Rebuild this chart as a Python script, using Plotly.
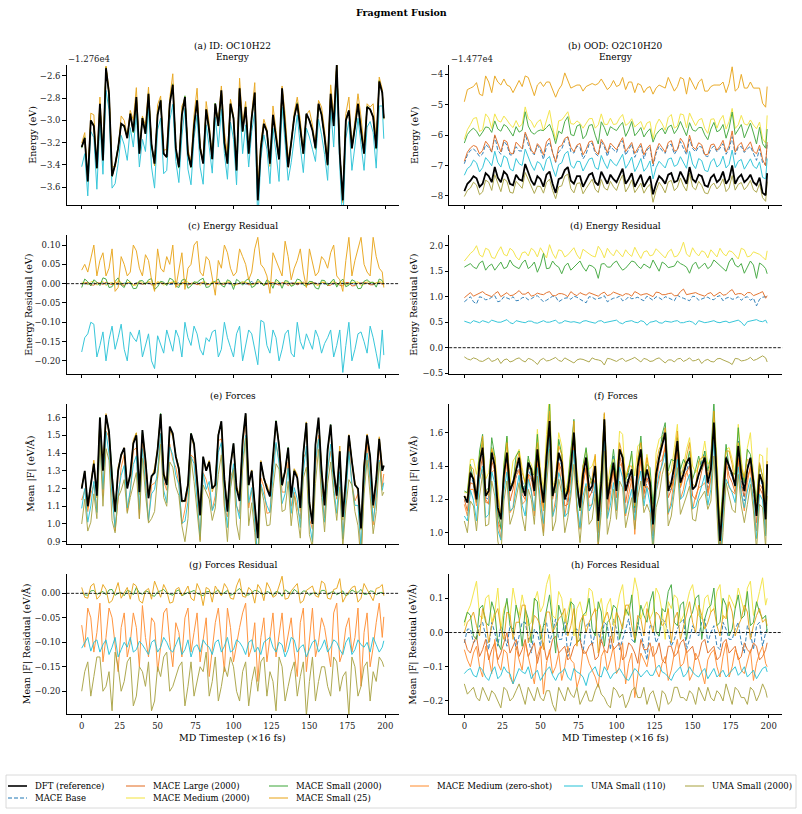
import numpy as np
import plotly.graph_objects as go

W, H = 802, 814

# ---------------- data ----------------
# Each series is stored as two lists: values at t = 0,4,...,196,199 and values at t = 2,6,...,198
T_A = list(range(0, 200, 4)) + [199]
T_B = list(range(2, 200, 4))
X_TICKS = [0, 25, 50, 75, 100, 125, 150, 175, 200]

# ---- ID: OC10H22, energies (eV) relative to offset ----
ID_E_OFFSET = -1.276e4
ID_E_DFT = [-3.24,-3.55,-3.05,-2.85,-2.53,-3.50,-3.25,-3.05,-2.94,-2.79,
            -2.98,-2.76,-3.39,-2.82,-3.33,-2.68,-3.42,-2.79,-3.42,-2.82,
            -3.39,-3.09,-2.85,-2.73,-3.39,-2.98,-2.71,-2.88,-2.97,-3.72,
            -3.03,-3.39,-3.15,-2.71,-3.42,-2.97,-3.09,-2.94,-3.09,-2.85,
            -3.15,-2.76,-2.50,-3.72,-2.91,-3.06,-3.09,-2.88,-2.97,-2.65,-2.98]
ID_E_DFT_MID = [-3.16,-3.00,-3.43,-3.36,-2.76,-3.40,-3.03,-3.16,-3.10,-3.30,
                -3.12,-3.22,-2.95,-3.30,-2.85,-3.25,-2.95,-3.30,-3.05,-3.25,
                -2.90,-3.35,-3.05,-3.20,-2.85,-3.45,-3.10,-3.30,-2.75,-3.25,
                -3.10,-2.95,-3.35,-3.05,-3.20,-2.85,-3.30,-3.00,-3.25,-2.95,
                -3.40,-3.05,-3.30,-3.00,-3.25,-2.85,-3.30,-2.90,-3.25,-2.75]

ID_ERES_BASE = [0.001,-0.002,0.002,0.0,-0.001,0.002,-0.002,0.001,0.0,0.002,
                -0.001,0.001,-0.002,0.002,0.0,-0.001,0.002,0.001,-0.002,0.0,
                0.001,-0.001,0.002,-0.002,0.001,0.0,0.002,-0.001,0.006,0.001,
                -0.002,0.001,0.0,0.002,-0.001,0.001,-0.002,0.002,0.0,0.001,
                -0.001,0.002,-0.002,0.001,0.0,-0.001,0.002,0.001,-0.002,0.001,0.0]
ID_ERES_BASE_MID = [0.0,0.001,-0.001,0.002,0.001,-0.002,0.0,0.002,-0.001,0.001,
                    0.002,-0.001,0.0,0.001,-0.002,0.002,0.0,-0.001,0.001,0.002,
                    -0.002,0.001,0.0,0.002,-0.001,0.001,0.004,0.0,-0.002,0.001,
                    0.002,-0.001,0.001,0.0,0.002,-0.002,0.001,-0.001,0.002,0.0,
                    0.001,-0.002,0.002,0.0,-0.001,0.001,0.002,-0.001,0.0,0.001]
ID_ERES_LARGE = [-0.002,0.003,-0.004,0.001,0.004,-0.003,0.002,-0.005,0.003,0.001,
                 -0.002,0.004,-0.003,0.002,-0.001,0.003,-0.004,0.002,0.001,-0.003,
                 0.004,-0.002,0.003,-0.001,0.002,-0.004,0.001,0.003,-0.002,0.004,
                 -0.003,0.002,-0.001,0.003,-0.005,0.002,0.001,-0.003,0.004,-0.002,
                 0.003,-0.004,0.002,-0.006,0.003,-0.005,0.001,0.002,-0.003,0.004,-0.001]
ID_ERES_LARGE_MID = [0.002,-0.003,0.003,-0.002,0.001,0.004,-0.002,0.002,-0.004,0.003,
                     0.001,-0.003,0.004,-0.001,0.002,-0.002,0.003,-0.004,0.002,0.001,
                     -0.003,0.002,0.004,-0.002,0.003,-0.001,0.002,-0.003,0.001,0.004,
                     -0.002,0.003,-0.004,0.002,0.001,-0.003,0.004,-0.002,0.001,0.003,
                     -0.005,0.002,-0.004,0.003,-0.006,0.002,0.004,-0.003,0.002,-0.002]
ID_ERES_MEDIUM = [0.004,-0.003,0.006,0.002,-0.005,0.003,0.008,-0.002,0.005,-0.004,
                  0.002,0.006,-0.006,0.003,0.001,0.005,-0.003,0.007,-0.002,0.004,
                  0.006,-0.004,0.002,0.001,0.005,-0.006,0.003,0.004,-0.003,0.006,
                  -0.002,0.002,0.005,-0.005,0.003,0.001,0.004,-0.003,0.002,-0.006,
                  0.004,0.002,-0.004,0.006,-0.001,0.003,-0.005,0.005,0.002,0.006,0.001]
ID_ERES_MEDIUM_MID = [0.002,0.005,-0.004,0.006,0.001,-0.003,0.004,0.002,-0.005,0.007,
                      -0.002,0.003,0.005,-0.004,0.002,0.006,-0.002,0.004,0.001,-0.005,
                      0.003,0.006,-0.003,0.002,0.004,-0.002,0.005,0.001,-0.004,0.003,
                      0.006,-0.003,0.002,0.004,-0.005,0.003,0.001,0.005,-0.002,0.004,
                      -0.003,0.006,0.001,-0.004,0.003,0.005,-0.002,0.004,0.001,0.003]
ID_ERES_SMALL = [-0.01,0.005,0.01,-0.005,0.012,-0.008,0.015,-0.01,0.004,-0.012,
                 0.008,0.01,-0.015,0.006,-0.005,0.01,-0.01,0.012,-0.006,0.003,
                 0.014,-0.008,0.006,-0.004,0.01,-0.015,0.005,0.008,-0.01,0.012,
                 -0.006,0.004,0.011,-0.012,0.006,-0.003,0.009,-0.007,0.005,-0.014,
                 0.008,0.003,-0.009,0.012,-0.004,0.006,-0.012,0.01,0.004,0.012,-0.002]
ID_ERES_SMALL_MID = [0.012,-0.006,0.004,0.015,-0.01,0.006,-0.004,0.011,-0.013,0.007,
                     -0.002,0.013,-0.008,0.004,0.014,-0.006,0.009,-0.012,0.005,0.01,
                     -0.01,0.003,0.012,-0.009,0.006,0.011,-0.004,0.013,-0.006,0.002,
                     0.01,-0.012,0.005,0.008,-0.007,0.012,-0.003,0.006,-0.011,0.009,
                     -0.005,0.012,0.004,-0.008,0.01,-0.013,0.006,0.003,-0.009,0.008]
ID_ERES_SMALL25 = [0.035,0.03,0.10,0.06,0.02,0.09,-0.01,0.05,0.03,0.085,
                   0.02,0.06,-0.02,0.04,0.07,0.10,0.03,-0.015,0.05,0.11,
                   0.02,0.06,-0.03,0.04,0.08,0.02,0.09,0.05,0.03,0.12,
                   0.04,-0.025,0.06,0.02,0.07,0.04,0.09,-0.01,0.05,0.03,
                   0.06,0.08,0.02,-0.02,0.12,0.06,0.12,0.03,0.12,0.04,-0.01]
ID_ERES_SMALL25_MID = [0.05,0.065,0.02,0.08,0.04,-0.02,0.07,0.02,0.10,0.04,
                       0.075,0.01,0.09,0.03,0.05,-0.01,0.08,0.04,0.10,0.03,
                       0.07,0.01,0.06,0.10,0.04,0.03,0.07,0.01,0.09,0.05,
                       0.02,0.08,0.04,0.11,0.01,0.06,0.03,0.09,0.02,0.07,
                       0.04,0.10,0.01,0.06,0.02,0.09,0.05,0.02,0.07,0.03]
ID_ERES_UMA110 = [-0.177,-0.13,-0.105,-0.16,-0.20,-0.11,-0.14,-0.17,-0.125,-0.15,
                  -0.19,-0.13,-0.22,-0.16,-0.12,-0.175,-0.14,-0.10,-0.16,-0.13,
                  -0.185,-0.15,-0.12,-0.17,-0.14,-0.19,-0.11,-0.16,-0.13,-0.21,
                  -0.10,-0.18,-0.14,-0.17,-0.12,-0.19,-0.15,-0.13,-0.17,-0.14,
                  -0.155,-0.12,-0.16,-0.23,-0.10,-0.17,-0.125,-0.18,-0.14,-0.22,-0.185]
ID_ERES_UMA110_MID = [-0.14,-0.10,-0.19,-0.125,-0.145,-0.17,-0.105,-0.20,-0.14,-0.12,
                      -0.16,-0.20,-0.135,-0.18,-0.15,-0.12,-0.19,-0.14,-0.11,-0.17,
                      -0.14,-0.125,-0.19,-0.10,-0.165,-0.13,-0.20,-0.12,-0.175,-0.095,
                      -0.16,-0.12,-0.20,-0.13,-0.18,-0.10,-0.17,-0.15,-0.12,-0.18,
                      -0.14,-0.19,-0.12,-0.16,-0.20,-0.13,-0.15,-0.11,-0.18,-0.12]

# ---- ID forces (eV/Å) ----
ID_F_DFT = [1.20,1.10,1.34,1.60,1.615,1.26,1.30,1.43,1.28,1.50,
            1.53,1.145,1.29,1.62,1.22,1.51,1.31,1.13,1.51,1.24,
            1.38,1.35,1.22,1.58,1.07,1.455,1.13,1.625,1.30,0.92,
            1.26,1.155,1.58,1.22,1.43,1.30,1.09,1.57,1.00,1.60,
            1.105,1.56,1.16,1.04,1.50,1.22,0.975,1.50,1.105,1.48,1.33]
ID_F_DFT_MID = [1.30,1.22,1.16,1.30,1.52,1.07,1.39,1.20,1.455,1.18,
                1.36,1.27,1.42,1.28,1.55,1.38,1.13,1.22,1.45,1.05,
                1.30,1.20,1.50,1.25,1.33,1.20,1.47,1.22,1.10,1.35,
                1.20,1.38,1.44,1.30,1.15,1.26,1.40,1.12,1.45,1.30,
                1.42,1.30,1.41,1.25,1.35,1.20,1.32,1.38,1.25,1.30]
ID_FRES_SMALL = [0.002,-0.004,0.006,0.001,-0.003,0.008,0.0,-0.005,0.004,0.012,
                 -0.002,0.003,-0.006,0.005,0.001,-0.004,0.007,-0.002,0.003,0.0,
                 -0.005,0.004,0.002,-0.003,0.006,-0.001,0.01,-0.004,0.002,0.005,
                 -0.003,0.001,0.004,-0.006,0.003,0.008,-0.002,0.004,0.0,-0.004,
                 0.006,0.002,-0.003,0.005,-0.001,0.003,0.008,-0.002,0.004,0.001,-0.003]
ID_FRES_SMALL_MID = [-0.003,0.005,-0.002,0.004,0.007,-0.004,0.002,0.006,-0.003,0.001,
                     0.005,-0.004,0.003,0.008,-0.002,0.004,-0.005,0.002,0.006,-0.003,
                     0.003,-0.002,0.007,0.001,-0.004,0.005,0.002,-0.003,0.006,0.0,
                     0.004,-0.005,0.002,0.007,-0.002,0.003,0.005,-0.004,0.002,0.006,
                     -0.003,0.004,0.001,-0.005,0.007,0.002,-0.002,0.005,-0.003,0.002]
ID_FRES_SMALL25 = [0.012,-0.01,0.02,-0.005,0.008,-0.015,0.022,0.0,-0.012,0.015,
                   -0.02,0.01,0.025,-0.008,0.005,-0.018,0.012,0.003,-0.01,0.02,
                   -0.025,0.008,0.015,-0.005,0.01,-0.012,0.03,-0.008,0.005,0.018,
                   -0.015,0.01,-0.004,0.035,-0.01,0.012,-0.02,0.006,0.015,-0.008,
                   0.02,-0.012,0.01,-0.018,0.004,0.015,-0.01,0.008,-0.015,0.012,-0.005]
ID_FRES_SMALL25_MID = [-0.008,0.015,-0.012,0.018,-0.02,0.005,-0.01,0.012,0.02,-0.015,
                       0.005,-0.012,0.01,0.018,-0.02,0.008,-0.005,0.015,-0.015,0.006,
                       0.012,-0.018,0.004,0.02,-0.01,0.015,-0.006,0.012,-0.02,0.008,
                       0.022,-0.008,0.015,-0.012,0.005,0.02,-0.015,0.01,-0.005,0.025,
                       -0.01,0.008,0.03,-0.006,0.012,-0.018,0.02,-0.005,0.01,0.018]
ID_FRES_ZERO = [-0.065,-0.03,-0.12,-0.02,-0.09,-0.05,-0.16,-0.04,-0.10,-0.07,
                -0.025,-0.13,-0.06,-0.11,-0.03,-0.15,-0.08,-0.05,-0.12,-0.04,
                -0.09,-0.17,-0.06,-0.10,-0.03,-0.14,-0.07,-0.02,-0.11,-0.18,
                -0.05,-0.09,-0.13,-0.04,-0.08,-0.12,-0.06,-0.16,-0.03,-0.10,
                -0.07,-0.15,-0.02,-0.12,-0.05,-0.09,-0.19,-0.04,-0.11,-0.02,-0.048]
ID_FRES_ZERO_MID = [-0.11,-0.05,-0.08,-0.14,-0.03,-0.11,-0.07,-0.13,-0.04,-0.15,
                    -0.09,-0.05,-0.16,-0.04,-0.10,-0.06,-0.13,-0.03,-0.08,-0.14,
                    -0.05,-0.12,-0.03,-0.16,-0.07,-0.10,-0.04,-0.13,-0.06,-0.09,
                    -0.14,-0.04,-0.08,-0.12,-0.05,-0.17,-0.03,-0.09,-0.13,-0.05,
                    -0.11,-0.04,-0.14,-0.07,-0.12,-0.03,-0.08,-0.15,-0.06,-0.09]
ID_FRES_UMA110 = [-0.112,-0.09,-0.10,-0.12,-0.095,-0.11,-0.13,-0.10,-0.09,-0.115,
                  -0.105,-0.125,-0.095,-0.11,-0.10,-0.12,-0.09,-0.115,-0.13,-0.105,
                  -0.095,-0.11,-0.10,-0.12,-0.09,-0.115,-0.10,-0.125,-0.095,-0.11,
                  -0.10,-0.09,-0.12,-0.105,-0.115,-0.095,-0.11,-0.13,-0.10,-0.12,
                  -0.095,-0.11,-0.10,-0.125,-0.09,-0.115,-0.105,-0.10,-0.09,-0.12,-0.097]
ID_FRES_UMA110_MID = [-0.10,-0.118,-0.095,-0.105,-0.125,-0.09,-0.115,-0.11,-0.12,-0.098,
                      -0.115,-0.10,-0.12,-0.09,-0.115,-0.105,-0.125,-0.095,-0.11,-0.12,
                      -0.105,-0.125,-0.095,-0.108,-0.12,-0.095,-0.11,-0.10,-0.12,-0.125,
                      -0.095,-0.11,-0.10,-0.13,-0.09,-0.12,-0.105,-0.115,-0.095,-0.11,
                      -0.12,-0.095,-0.115,-0.10,-0.125,-0.095,-0.11,-0.12,-0.105,-0.11]
ID_FRES_UMA2000 = [-0.20,-0.14,-0.17,-0.13,-0.19,-0.24,-0.15,-0.18,-0.13,-0.21,
                   -0.16,-0.14,-0.22,-0.17,-0.12,-0.19,-0.15,-0.23,-0.14,-0.18,
                   -0.16,-0.21,-0.13,-0.19,-0.17,-0.15,-0.22,-0.14,-0.18,-0.20,
                   -0.13,-0.16,-0.24,-0.15,-0.19,-0.14,-0.17,-0.25,-0.13,-0.18,
                   -0.15,-0.21,-0.14,-0.17,-0.25,-0.15,-0.19,-0.14,-0.16,-0.13,-0.15]
ID_FRES_UMA2000_MID = [-0.16,-0.21,-0.13,-0.20,-0.16,-0.12,-0.20,-0.14,-0.23,-0.15,
                       -0.19,-0.24,-0.15,-0.13,-0.20,-0.17,-0.14,-0.19,-0.21,-0.15,
                       -0.12,-0.18,-0.22,-0.15,-0.13,-0.20,-0.16,-0.23,-0.15,-0.14,
                       -0.21,-0.18,-0.13,-0.22,-0.16,-0.21,-0.14,-0.18,-0.22,-0.15,
                       -0.19,-0.13,-0.20,-0.16,-0.13,-0.21,-0.15,-0.22,-0.18,-0.14]

# ---- OOD: O2C10H20, energies (eV) relative to offset ----
OOD_E_OFFSET = -1.477e4
OOD_E_DFT = [-7.84,-7.5,-7.42,-7.6,-7.35,-7.05,-7.55,-7.3,-7.65,-7.45,
             -6.95,-7.5,-7.35,-7.7,-7.2,-7.9,-7.4,-7.05,-7.6,-7.35,
             -7.5,-7.25,-7.65,-7.4,-7.3,-7.55,-7.1,-7.45,-7.7,-7.3,
             -7.5,-7.95,-7.35,-7.6,-7.25,-7.5,-7.4,-7.05,-7.55,-7.35,
             -7.7,-7.3,-7.45,-7.6,-7.0,-7.4,-7.55,-7.3,-7.65,-7.9,-7.25]
OOD_E_DFT_MID = [-7.6,-7.35,-7.7,-7.25,-7.55,-7.4,-7.2,-7.6,-7.3,-7.5,
                 -7.25,-7.65,-7.45,-7.3,-7.6,-7.45,-7.15,-7.5,-7.35,-7.7,
                 -7.3,-7.55,-7.2,-7.6,-7.45,-7.3,-7.6,-7.25,-7.5,-7.7,
                 -7.35,-7.6,-7.45,-7.3,-7.55,-7.2,-7.6,-7.45,-7.3,-7.65,
                 -7.4,-7.55,-7.2,-7.45,-7.6,-7.3,-7.45,-7.55,-7.4,-7.98]
OOD_ERES_BASE = [0.90,1.0,0.86,0.98,0.95,1.02,0.92,0.97,1.0,0.93,
                 0.99,0.96,1.02,0.9,0.97,1.0,0.94,0.98,1.01,0.95,
                 0.88,0.99,0.96,1.02,0.94,0.98,0.92,1.0,0.97,0.95,
                 1.01,0.93,0.98,1.0,0.95,1.03,0.97,0.92,1.0,0.96,
                 0.99,0.94,1.02,0.97,0.95,1.0,0.98,0.93,0.82,0.99,0.98]
OOD_ERES_BASE_MID = [0.95,0.9,1.0,0.94,0.99,0.9,1.0,0.95,0.92,0.98,
                     0.94,1.0,0.96,0.93,1.01,0.9,0.97,0.95,0.99,0.92,
                     1.0,0.95,0.98,0.9,0.97,1.01,0.94,0.96,0.99,0.92,
                     0.97,1.0,0.94,0.98,0.92,0.99,0.95,1.01,0.93,0.98,
                     0.95,1.0,0.92,0.99,0.96,0.93,1.0,0.97,0.95,1.0]
OOD_ERES_LARGE = [0.98,1.08,1.04,1.1,1.02,1.06,1.0,1.08,1.03,1.12,
                  1.05,1.01,1.07,1.04,1.1,1.02,1.06,1.0,1.05,1.08,
                  1.03,1.06,1.01,1.09,1.04,1.07,1.02,1.05,1.1,1.03,
                  1.06,1.0,1.08,1.04,1.07,1.02,1.15,1.05,1.08,1.03,
                  1.06,1.01,1.09,1.04,1.14,1.06,1.02,1.08,1.04,1.1,1.02]
OOD_ERES_LARGE_MID = [1.04,1.01,1.08,1.05,1.0,1.1,1.04,1.02,1.07,1.05,
                      1.09,1.03,1.05,1.08,1.02,1.06,1.04,1.1,1.02,1.05,
                      1.08,1.03,1.06,1.02,1.09,1.04,1.06,1.01,1.07,1.05,
                      1.03,1.09,1.04,1.06,1.02,1.1,1.04,1.07,1.05,1.01,
                      1.08,1.05,1.03,1.1,1.04,1.06,1.08,1.02,1.07,0.97]
OOD_ERES_MEDIUM = [1.70,1.85,2.0,1.78,1.92,1.75,1.98,1.8,1.9,1.72,
                   1.88,1.95,1.78,1.85,2.02,1.75,1.9,1.82,1.96,1.74,
                   1.88,1.8,1.99,1.76,1.86,1.92,1.78,1.84,1.97,1.75,
                   1.9,1.82,1.88,1.76,1.93,1.8,2.07,1.78,1.86,1.9,
                   1.76,1.84,1.95,1.8,1.88,1.74,1.92,1.8,1.86,1.78,1.9]
OOD_ERES_MEDIUM_MID = [1.78,1.9,1.82,1.95,1.77,1.88,1.83,1.95,1.78,1.86,
                       1.8,1.9,1.96,1.76,1.85,1.92,1.78,1.88,1.82,1.93,
                       1.84,1.78,1.9,1.95,1.8,1.86,1.92,1.79,1.85,1.88,
                       1.8,1.94,1.82,1.88,1.78,1.9,1.84,1.96,1.8,1.87,
                       1.92,1.78,1.85,1.9,1.82,1.95,1.78,1.88,1.83,1.72]
OOD_ERES_SMALL = [1.58,1.65,1.55,1.7,1.6,1.52,1.68,1.58,1.62,1.55,
                  1.72,1.6,1.48,1.85,1.56,1.62,1.45,1.66,1.58,1.7,
                  1.5,1.6,1.36,1.65,1.58,1.7,1.52,1.62,1.68,1.55,
                  1.6,1.72,1.5,1.64,1.58,1.7,1.62,1.46,1.68,1.6,
                  1.55,1.72,1.62,1.5,1.76,1.58,1.46,1.7,1.36,1.62,1.45]
OOD_ERES_SMALL_MID = [1.62,1.58,1.66,1.52,1.64,1.6,1.55,1.72,1.58,1.66,
                      1.55,1.68,1.62,1.55,1.7,1.58,1.6,1.52,1.65,1.58,
                      1.62,1.55,1.64,1.58,1.66,1.6,1.56,1.7,1.6,1.64,
                      1.56,1.62,1.68,1.57,1.6,1.65,1.58,1.62,1.55,1.66,
                      1.6,1.66,1.55,1.68,1.62,1.65,1.58,1.62,1.66,1.55]
OOD_ERES_SMALL25 = [2.94,3.05,3.15,2.9,3.1,3.0,3.2,2.95,3.05,3.25,
                    2.9,3.1,3.0,3.3,2.95,3.15,3.05,2.85,3.2,3.0,
                    3.1,2.95,3.35,3.05,2.9,3.15,3.0,3.2,3.1,2.95,
                    3.05,3.3,3.0,3.15,2.9,3.1,3.25,2.95,3.05,3.2,
                    3.15,2.95,3.1,3.0,3.25,2.95,3.1,3.05,3.2,2.95,2.85]
OOD_ERES_SMALL25_MID = [3.1,2.95,3.05,3.2,2.95,3.15,3.05,3.2,2.9,3.1,
                        3.15,2.95,3.2,3.05,3.1,2.95,3.2,3.05,3.0,3.15,
                        2.95,3.2,3.05,3.1,3.25,2.95,3.1,3.0,3.2,3.1,
                        2.95,3.15,3.05,3.2,3.0,3.1,2.95,3.15,3.05,3.1,
                        3.0,3.2,2.95,3.15,3.05,3.3,3.0,3.1,2.95,2.9]
OOD_ERES_UMA110 = [0.52,0.48,0.51,0.53,0.49,0.52,0.5,0.55,0.47,0.51,
                   0.49,0.52,0.48,0.53,0.5,0.54,0.49,0.52,0.51,0.48,
                   0.53,0.5,0.52,0.49,0.51,0.54,0.47,0.52,0.5,0.53,
                   0.44,0.51,0.49,0.52,0.5,0.53,0.49,0.52,0.45,0.51,
                   0.5,0.53,0.49,0.52,0.51,0.54,0.43,0.52,0.55,0.51,0.48]
OOD_ERES_UMA110_MID = [0.5,0.53,0.49,0.51,0.54,0.5,0.52,0.49,0.53,0.5,
                       0.52,0.49,0.51,0.5,0.52,0.48,0.53,0.5,0.49,0.52,
                       0.51,0.48,0.53,0.5,0.52,0.49,0.51,0.53,0.49,0.51,
                       0.5,0.53,0.48,0.51,0.52,0.49,0.51,0.5,0.53,0.49,
                       0.52,0.5,0.51,0.49,0.53,0.5,0.51,0.53,0.52,0.54]
OOD_ERES_UMA2000 = [-0.18,-0.24,-0.22,-0.27,-0.2,-0.25,-0.31,-0.22,-0.26,-0.2,
                    -0.28,-0.23,-0.33,-0.21,-0.25,-0.19,-0.27,-0.23,-0.3,-0.22,
                    -0.26,-0.2,-0.24,-0.34,-0.22,-0.27,-0.21,-0.25,-0.19,-0.28,
                    -0.23,-0.26,-0.2,-0.3,-0.24,-0.22,-0.27,-0.2,-0.25,-0.31,
                    -0.23,-0.28,-0.21,-0.26,-0.33,-0.22,-0.25,-0.19,-0.23,-0.16,-0.28]
OOD_ERES_UMA2000_MID = [-0.22,-0.2,-0.26,-0.23,-0.27,-0.21,-0.24,-0.28,-0.22,-0.25,
                        -0.21,-0.27,-0.24,-0.26,-0.22,-0.25,-0.2,-0.26,-0.24,-0.23,
                        -0.28,-0.23,-0.26,-0.21,-0.25,-0.23,-0.27,-0.22,-0.24,-0.21,
                        -0.27,-0.22,-0.25,-0.24,-0.28,-0.21,-0.24,-0.26,-0.22,-0.25,
                        -0.27,-0.22,-0.24,-0.29,-0.21,-0.26,-0.23,-0.25,-0.2,-0.2]

# ---- OOD forces (eV/Å) ----
OOD_F_DFT = [1.22,1.36,1.20,1.51,1.25,1.40,1.08,1.48,1.30,1.45,
             1.22,1.38,1.50,1.18,1.67,1.30,1.42,1.25,1.60,1.15,
             1.45,1.28,1.07,1.68,1.30,1.25,1.45,1.32,1.18,1.50,
             1.38,1.05,1.45,1.60,1.30,1.55,1.35,1.45,1.28,1.40,
             1.30,1.66,0.95,1.45,1.35,1.52,1.25,1.45,1.10,1.30,1.41]
OOD_F_DFT_MID = [1.18,1.32,1.42,1.22,1.48,1.15,1.35,1.25,1.38,1.28,
                 1.42,1.25,1.32,1.45,1.22,1.48,1.20,1.40,1.30,1.35,
                 1.25,1.40,1.30,1.20,1.42,1.50,1.25,1.38,1.40,1.28,
                 1.30,1.35,1.52,1.25,1.40,1.30,1.42,1.26,1.35,1.45,
                 1.38,1.32,1.20,1.40,1.28,1.35,1.38,1.30,1.35,1.08]
OOD_FRES_BASE = [-0.03,0.01,-0.02,0.03,-0.05,0.0,0.02,-0.04,0.01,-0.01,
                 0.03,-0.06,0.0,0.02,-0.03,0.04,-0.02,-0.07,0.01,-0.01,
                 0.02,-0.04,0.0,0.03,-0.05,0.01,-0.02,0.04,-0.03,0.0,
                 -0.08,0.02,-0.01,0.03,-0.04,0.01,0.04,-0.02,0.0,0.03,
                 -0.03,0.02,-0.05,0.01,-0.02,0.03,-0.06,0.0,0.02,-0.04,0.01]
OOD_FRES_BASE_MID = [0.01,-0.03,0.02,-0.01,0.03,-0.04,0.0,0.02,-0.05,0.03,
                     -0.02,0.01,-0.04,0.03,0.0,-0.02,0.04,-0.03,0.01,-0.06,
                     0.03,0.0,-0.03,0.02,0.04,-0.05,0.01,-0.02,0.03,-0.04,
                     0.02,-0.03,0.04,0.0,-0.02,0.03,-0.05,0.02,-0.01,0.04,
                     0.0,-0.04,0.03,-0.02,0.01,-0.03,0.02,-0.05,0.03,0.0]
OOD_FRES_LARGE = [-0.02,-0.06,-0.01,-0.05,-0.08,-0.03,-0.06,0.0,-0.04,-0.07,
                  -0.02,-0.05,-0.09,-0.03,-0.06,-0.01,-0.05,-0.08,-0.04,-0.02,
                  -0.06,-0.03,-0.07,-0.05,-0.01,-0.04,-0.08,-0.03,-0.06,-0.02,
                  -0.05,-0.07,-0.03,-0.09,-0.04,-0.06,-0.02,-0.05,-0.08,-0.03,
                  -0.06,-0.04,-0.07,-0.02,-0.05,-0.08,-0.03,-0.06,-0.04,-0.07,-0.03]
OOD_FRES_LARGE_MID = [-0.05,-0.03,-0.07,-0.02,-0.05,-0.08,-0.03,-0.06,-0.02,-0.05,
                      -0.07,-0.03,-0.05,-0.08,-0.02,-0.06,-0.04,-0.07,-0.03,-0.06,
                      -0.04,-0.08,-0.02,-0.06,-0.05,-0.03,-0.07,-0.04,-0.09,-0.05,
                      -0.03,-0.06,-0.08,-0.04,-0.07,-0.03,-0.06,-0.04,-0.07,-0.02,
                      -0.05,-0.08,-0.03,-0.06,-0.04,-0.07,-0.05,-0.03,-0.08,-0.05]
OOD_FRES_MEDIUM = [0.02,0.08,0.15,0.04,0.11,0.06,0.01,0.09,0.13,0.05,
                   0.07,0.03,0.12,0.08,0.17,0.04,0.1,0.06,-0.01,0.09,
                   0.05,0.12,0.07,0.03,0.1,0.06,0.14,0.08,0.16,0.04,
                   0.09,0.06,0.11,-0.02,0.07,0.1,0.05,0.12,0.08,0.04,
                   0.11,0.07,0.14,0.05,0.09,0.13,0.06,0.15,0.08,0.16,0.1]
OOD_FRES_MEDIUM_MID = [0.06,0.12,0.05,0.1,0.03,0.13,0.07,0.04,0.08,0.11,
                       0.02,0.09,0.06,0.14,0.05,0.12,0.03,0.1,0.07,0.05,
                       0.13,0.06,0.1,0.08,0.02,0.11,0.05,0.09,0.12,0.07,
                       0.04,0.13,0.06,0.09,0.11,0.03,0.08,0.14,0.05,0.1,
                       0.06,0.12,0.04,0.11,0.07,0.09,0.13,0.05,0.12,0.08]
OOD_FRES_SMALL = [0.03,0.05,-0.02,0.08,0.02,0.06,-0.05,0.1,0.0,0.04,
                  0.07,-0.03,0.09,0.02,0.11,-0.06,0.05,0.03,0.08,-0.02,
                  0.06,0.01,0.09,-0.04,0.04,0.07,0.02,0.05,-0.03,0.08,
                  0.03,0.12,-0.01,0.06,0.14,0.02,0.09,0.04,0.1,-0.02,
                  0.07,0.13,0.03,0.08,0.01,0.11,0.05,0.02,0.09,0.04,0.0]
OOD_FRES_SMALL_MID = [0.06,-0.01,0.07,0.03,0.09,-0.03,0.05,0.02,0.08,-0.04,
                      0.04,0.1,-0.02,0.06,0.03,0.08,0.0,0.09,-0.03,0.05,
                      0.1,-0.01,0.06,0.03,0.08,-0.02,0.07,0.11,0.02,0.05,
                      0.09,0.0,0.07,0.12,0.03,0.08,-0.02,0.06,0.11,0.04,
                      0.08,0.02,0.1,-0.01,0.07,0.04,0.12,0.03,0.06,0.05]
OOD_FRES_SMALL25 = [0.0,0.04,0.02,0.07,-0.03,0.05,0.01,0.06,-0.02,0.03,
                    0.08,0.0,0.04,-0.05,0.06,0.02,0.05,-0.01,0.07,0.03,
                    0.0,0.05,-0.06,0.04,0.02,0.06,0.01,0.08,-0.02,0.04,
                    0.07,0.0,0.05,0.03,-0.03,0.06,0.02,0.09,0.0,0.05,
                    0.03,0.07,-0.01,0.04,0.06,0.02,0.08,-0.02,0.05,0.03,0.02]
OOD_FRES_SMALL25_MID = [0.03,0.06,-0.01,0.04,0.02,0.07,-0.02,0.05,0.03,0.08,
                        -0.03,0.05,0.02,0.06,0.0,0.04,0.07,0.02,-0.04,0.05,
                        0.03,0.07,0.01,0.06,-0.03,0.04,0.08,0.02,0.05,-0.01,
                        0.03,0.06,0.02,0.07,0.04,-0.02,0.05,0.03,0.08,0.01,
                        0.06,0.02,0.05,0.09,-0.01,0.04,0.06,0.02,0.07,0.04]
OOD_FRES_ZERO = [-0.05,-0.1,-0.04,-0.13,-0.07,-0.02,-0.11,-0.06,-0.15,-0.08,
                 -0.03,-0.12,-0.07,-0.18,-0.05,-0.1,-0.14,-0.04,-0.09,-0.13,
                 -0.06,-0.11,-0.16,-0.05,-0.08,-0.12,-0.03,-0.09,-0.19,-0.06,
                 -0.1,-0.04,-0.13,-0.07,-0.11,-0.02,-0.09,-0.14,-0.06,-0.12,
                 -0.08,-0.05,-0.13,-0.03,-0.1,-0.07,-0.12,-0.05,-0.09,-0.04,-0.1]
OOD_FRES_ZERO_MID = [-0.08,-0.06,-0.1,-0.04,-0.12,-0.09,-0.05,-0.13,-0.04,-0.11,
                     -0.07,-0.15,-0.04,-0.09,-0.12,-0.06,-0.1,-0.08,-0.16,-0.05,
                     -0.09,-0.13,-0.07,-0.11,-0.04,-0.1,-0.15,-0.06,-0.12,-0.08,
                     -0.05,-0.11,-0.09,-0.14,-0.06,-0.1,-0.05,-0.12,-0.08,-0.15,
                     -0.06,-0.1,-0.07,-0.13,-0.05,-0.11,-0.08,-0.14,-0.06,-0.09]
OOD_FRES_UMA110 = [-0.12,-0.105,-0.13,-0.11,-0.14,-0.1,-0.125,-0.115,-0.15,-0.105,
                   -0.12,-0.135,-0.11,-0.125,-0.1,-0.14,-0.115,-0.13,-0.105,-0.12,
                   -0.155,-0.11,-0.125,-0.1,-0.135,-0.115,-0.12,-0.14,-0.105,-0.13,
                   -0.11,-0.125,-0.095,-0.12,-0.14,-0.11,-0.13,-0.1,-0.125,-0.115,
                   -0.135,-0.105,-0.12,-0.13,-0.11,-0.125,-0.1,-0.12,-0.135,-0.105,-0.115]
OOD_FRES_UMA110_MID = [-0.11,-0.125,-0.1,-0.13,-0.115,-0.135,-0.1,-0.12,-0.13,-0.115,
                       -0.1,-0.12,-0.14,-0.11,-0.125,-0.12,-0.105,-0.14,-0.115,-0.13,
                       -0.12,-0.1,-0.13,-0.115,-0.12,-0.105,-0.135,-0.12,-0.115,-0.12,
                       -0.125,-0.105,-0.115,-0.13,-0.12,-0.1,-0.12,-0.115,-0.13,-0.105,
                       -0.12,-0.13,-0.11,-0.12,-0.1,-0.115,-0.13,-0.11,-0.12,-0.1]
OOD_FRES_UMA2000 = [-0.15,-0.17,-0.19,-0.16,-0.2,-0.18,-0.22,-0.17,-0.19,-0.15,
                    -0.21,-0.18,-0.16,-0.2,-0.17,-0.23,-0.18,-0.16,-0.19,-0.21,
                    -0.17,-0.2,-0.15,-0.19,-0.22,-0.17,-0.18,-0.2,-0.16,-0.19,
                    -0.21,-0.17,-0.23,-0.18,-0.2,-0.16,-0.19,-0.17,-0.21,-0.18,
                    -0.16,-0.2,-0.18,-0.15,-0.21,-0.17,-0.19,-0.16,-0.2,-0.15,-0.19]
OOD_FRES_UMA2000_MID = [-0.18,-0.16,-0.2,-0.18,-0.17,-0.2,-0.16,-0.2,-0.17,-0.18,
                        -0.16,-0.2,-0.19,-0.17,-0.21,-0.16,-0.2,-0.18,-0.16,-0.19,
                        -0.2,-0.17,-0.18,-0.21,-0.16,-0.19,-0.22,-0.17,-0.19,-0.16,
                        -0.18,-0.2,-0.17,-0.21,-0.16,-0.19,-0.2,-0.18,-0.16,-0.2,
                        -0.19,-0.17,-0.2,-0.18,-0.16,-0.19,-0.21,-0.17,-0.18,-0.17]

# tick values
A_YTICKS = [-3.6, -3.4, -3.2, -3.0, -2.8, -2.6]
B_YTICKS = [-8, -7, -6, -5, -4]
C_YTICKS = [-0.20, -0.15, -0.10, -0.05, 0.00, 0.05, 0.10]
D_YTICKS = [-0.5, 0.0, 0.5, 1.0, 1.5, 2.0]
E_YTICKS = [0.9, 1.0, 1.1, 1.2, 1.3, 1.4, 1.5, 1.6]
F_YTICKS = [1.0, 1.2, 1.4, 1.6]
G_YTICKS = [-0.20, -0.15, -0.10, -0.05, 0.00]
H_YTICKS = [-0.2, -0.1, 0.0, 0.1]


def merge(a, b):
    """Put the t=0,4,... samples and the t=2,6,... samples in time order."""
    out = []
    for i in range(len(b)):
        out += [a[i], b[i]]
    out += a[len(b):]
    return out


T = merge(T_A, T_B)

# tables built from the lists above
ID_EDFT = merge(ID_E_DFT, ID_E_DFT_MID)
ID_FDFT = merge(ID_F_DFT, ID_F_DFT_MID)
OOD_EDFT = merge(OOD_E_DFT, OOD_E_DFT_MID)
OOD_FDFT = merge(OOD_F_DFT, OOD_F_DFT_MID)

ID_ERES = {"MACE Base": merge(ID_ERES_BASE, ID_ERES_BASE_MID),
           "MACE Large (2000)": merge(ID_ERES_LARGE, ID_ERES_LARGE_MID),
           "MACE Medium (2000)": merge(ID_ERES_MEDIUM, ID_ERES_MEDIUM_MID),
           "MACE Small (2000)": merge(ID_ERES_SMALL, ID_ERES_SMALL_MID),
           "MACE Small (25)": merge(ID_ERES_SMALL25, ID_ERES_SMALL25_MID),
           "UMA Small (110)": merge(ID_ERES_UMA110, ID_ERES_UMA110_MID)}
ID_FRES = {"MACE Small (2000)": merge(ID_FRES_SMALL, ID_FRES_SMALL_MID),
           "MACE Small (25)": merge(ID_FRES_SMALL25, ID_FRES_SMALL25_MID),
           "MACE Medium (zero-shot)": merge(ID_FRES_ZERO, ID_FRES_ZERO_MID),
           "UMA Small (110)": merge(ID_FRES_UMA110, ID_FRES_UMA110_MID),
           "UMA Small (2000)": merge(ID_FRES_UMA2000, ID_FRES_UMA2000_MID)}
OOD_ERES = {"MACE Base": merge(OOD_ERES_BASE, OOD_ERES_BASE_MID),
            "MACE Large (2000)": merge(OOD_ERES_LARGE, OOD_ERES_LARGE_MID),
            "MACE Medium (2000)": merge(OOD_ERES_MEDIUM, OOD_ERES_MEDIUM_MID),
            "MACE Small (2000)": merge(OOD_ERES_SMALL, OOD_ERES_SMALL_MID),
            "MACE Small (25)": merge(OOD_ERES_SMALL25, OOD_ERES_SMALL25_MID),
            "UMA Small (110)": merge(OOD_ERES_UMA110, OOD_ERES_UMA110_MID),
            "UMA Small (2000)": merge(OOD_ERES_UMA2000, OOD_ERES_UMA2000_MID)}
OOD_FRES = {"MACE Base": merge(OOD_FRES_BASE, OOD_FRES_BASE_MID),
            "MACE Large (2000)": merge(OOD_FRES_LARGE, OOD_FRES_LARGE_MID),
            "MACE Medium (2000)": merge(OOD_FRES_MEDIUM, OOD_FRES_MEDIUM_MID),
            "MACE Small (2000)": merge(OOD_FRES_SMALL, OOD_FRES_SMALL_MID),
            "MACE Small (25)": merge(OOD_FRES_SMALL25, OOD_FRES_SMALL25_MID),
            "MACE Medium (zero-shot)": merge(OOD_FRES_ZERO, OOD_FRES_ZERO_MID),
            "UMA Small (110)": merge(OOD_FRES_UMA110, OOD_FRES_UMA110_MID),
            "UMA Small (2000)": merge(OOD_FRES_UMA2000, OOD_FRES_UMA2000_MID)}

# ---------------- styles ----------------
FONT = "DejaVu Serif"
STYLE = {
    "DFT (reference)": dict(color="#000000", width=1.8, dash="solid", op=1.0),
    "MACE Base": dict(color="#1f77b4", width=1.0, dash="4px,2px", op=0.9),
    "MACE Large (2000)": dict(color="#e2681d", width=1.0, dash="solid", op=0.9),
    "MACE Medium (2000)": dict(color="#f3e33b", width=1.0, dash="solid", op=0.9),
    "MACE Small (2000)": dict(color="#3aa537", width=1.0, dash="solid", op=0.9),
    "MACE Small (25)": dict(color="#e8a212", width=1.0, dash="solid", op=0.9),
    "MACE Medium (zero-shot)": dict(color="#ff8a2b", width=1.0, dash="solid", op=0.9),
    "UMA Small (110)": dict(color="#22c1d6", width=1.0, dash="solid", op=0.9),
    "UMA Small (2000)": dict(color="#a6a03d", width=1.0, dash="solid", op=0.9),
}

COLS = [(66.6, 398.9), (449.2, 782.3)]
ROWS = [(65, 205), (235, 374), (404, 544), (574, 714)]

PANELS = [
    dict(row=0, col=0, yr=[-3.762, -2.501], ticks=A_YTICKS, fmt=".1f", ytitle="Energy (eV)", tx=31.7),
    dict(row=0, col=1, yr=[-8.30, -3.69], ticks=B_YTICKS, fmt=".0f", ytitle="Energy (eV)", tx=414),
    dict(row=1, col=0, yr=[-0.234, 0.126], ticks=C_YTICKS, fmt=".2f", ytitle="Energy Residual (eV)", tx=28.3),
    dict(row=1, col=1, yr=[-0.516, 2.21], ticks=D_YTICKS, fmt=".1f", ytitle="Energy Residual (eV)", tx=413.3),
    dict(row=2, col=0, yr=[0.887, 1.677], ticks=E_YTICKS, fmt=".1f", ytitle="Mean |F| (eV/Å)", tx=30.7),
    dict(row=2, col=1, yr=[0.932, 1.772], ticks=F_YTICKS, fmt=".1f", ytitle="Mean |F| (eV/Å)", tx=414),
    dict(row=3, col=0, yr=[-0.2465, 0.0395], ticks=G_YTICKS, fmt=".2f", ytitle="Mean |F| Residual (eV/Å)", tx=27.3),
    dict(row=3, col=1, yr=[-0.238, 0.171], ticks=H_YTICKS, fmt=".1f", ytitle="Mean |F| Residual (eV/Å)", tx=412.7),
]


def sfx(i):
    return "" if i == 0 else str(i + 1)


def px_x(x):
    return x / W


def px_y(y):
    return 1 - y / H


fig = go.Figure()


def add_line(i, y, name):
    st = STYLE[name]
    fig.add_trace(go.Scatter(
        x=T, y=list(y), mode="lines", name=name,
        line=dict(color=st["color"], width=st["width"], dash=st["dash"]),
        opacity=st["op"], xaxis="x" + sfx(i), yaxis="y" + sfx(i),
        showlegend=False, hoverinfo="skip"))


# (a) ID energy
for m, res in ID_ERES.items():
    add_line(0, np.add(ID_EDFT, res), m)
add_line(0, ID_EDFT, "DFT (reference)")
# (b) OOD energy
for m, res in OOD_ERES.items():
    add_line(1, np.add(OOD_EDFT, res), m)
add_line(1, OOD_EDFT, "DFT (reference)")
# (c) ID energy residual
for m, res in ID_ERES.items():
    add_line(2, res, m)
# (d) OOD energy residual
for m, res in OOD_ERES.items():
    add_line(3, res, m)
# (e) ID forces
for m, res in ID_FRES.items():
    add_line(4, np.add(ID_FDFT, res), m)
add_line(4, ID_FDFT, "DFT (reference)")
# (f) OOD forces
for m, res in OOD_FRES.items():
    add_line(5, np.add(OOD_FDFT, res), m)
add_line(5, OOD_FDFT, "DFT (reference)")
# (g) ID force residual
for m, res in ID_FRES.items():
    add_line(6, res, m)
# (h) OOD force residual
for m, res in OOD_FRES.items():
    add_line(7, res, m)

layout = dict(width=W, height=H, margin=dict(l=0, r=0, t=0, b=0),
              paper_bgcolor="white", plot_bgcolor="white",
              font=dict(family=FONT, size=9, color="black"), showlegend=False)

axis_common = dict(ticks="outside", ticklen=3.5, tickwidth=0.8, tickcolor="black",
                   showline=True, linecolor="black", linewidth=0.8,
                   showgrid=False, zeroline=False, automargin=False,
                   tickfont=dict(family=FONT, size=8.5, color="#222222"))

annotations = []
shapes = []

for i, p in enumerate(PANELS):
    c0, c1 = COLS[p["col"]]
    r0, r1 = ROWS[p["row"]]
    layout["xaxis" + sfx(i)] = dict(domain=[px_x(c0), px_x(c1)], anchor="y" + sfx(i),
                                    range=[-9.95, 208.95], tickvals=X_TICKS,
                                    showticklabels=(p["row"] == 3), **axis_common)
    layout["yaxis" + sfx(i)] = dict(domain=[px_y(r1), px_y(r0)], anchor="x" + sfx(i),
                                    range=p["yr"], tickvals=p["ticks"], tickformat=p["fmt"],
                                    **axis_common)
    annotations.append(dict(text=p["ytitle"], x=px_x(p["tx"]), y=px_y((r0 + r1) / 2),
                            xref="paper", yref="paper", textangle=-90, showarrow=False,
                            xanchor="center", yanchor="middle",
                            font=dict(family=FONT, size=9.5)))
    if p["row"] in (1, 3):
        shapes.append(dict(type="line", xref="x" + sfx(i) + " domain", yref="y" + sfx(i),
                           x0=0, x1=1, y0=0, y1=0, layer="above",
                           line=dict(color="black", width=0.9, dash="3px,1.5px")))

# subplot titles
TITLES = [
    (0, ["(a) ID: OC10H22", "Energy"]), (1, ["(b) OOD: O2C10H20", "Energy"]),
    (0, ["(c) Energy Residual"]), (1, ["(d) Energy Residual"]),
    (0, ["(e) Forces"]), (1, ["(f) Forces"]),
    (0, ["(g) Forces Residual"]), (1, ["(h) Forces Residual"]),
]
TITLE_Y = [[46, 57], [46, 57], [225.7], [225.7], [395.7], [395.7], [565.3], [565.3]]
for (col, lines), ys in zip(TITLES, TITLE_Y):
    cx = (COLS[col][0] + COLS[col][1]) / 2
    for txt, yy in zip(lines, ys):
        annotations.append(dict(text=txt, x=px_x(cx), y=px_y(yy), xref="paper", yref="paper",
                                showarrow=False, xanchor="center", yanchor="middle",
                                font=dict(family=FONT, size=9)))

# offset texts
annotations.append(dict(text="−1.276e4", x=px_x(66), y=px_y(59), xref="paper", yref="paper",
                        showarrow=False, xanchor="left", yanchor="middle",
                        font=dict(family=FONT, size=8.5, color="#222222")))
annotations.append(dict(text="−1.477e4", x=px_x(449), y=px_y(59), xref="paper", yref="paper",
                        showarrow=False, xanchor="left", yanchor="middle",
                        font=dict(family=FONT, size=8.5, color="#222222")))

# x axis titles
for col in (0, 1):
    cx = (COLS[col][0] + COLS[col][1]) / 2
    annotations.append(dict(text="MD Timestep (×16 fs)", x=px_x(cx), y=px_y(737.5),
                            xref="paper", yref="paper", showarrow=False,
                            xanchor="center", yanchor="middle",
                            font=dict(family=FONT, size=9.5)))

# suptitle
annotations.append(dict(text="<b>Fragment Fusion</b>", x=0.5, y=px_y(12), xref="paper", yref="paper",
                        showarrow=False, xanchor="center", yanchor="middle",
                        font=dict(family=FONT, size=9.5)))

# legend (matplotlib-style, 6 columns filled column-wise)
LEG_ENTRIES = [
    ("DFT (reference)", 8, 786), ("MACE Base", 8, 798),
    ("MACE Large (2000)", 126, 786), ("MACE Medium (2000)", 126, 798),
    ("MACE Small (2000)", 269, 786), ("MACE Small (25)", 269, 798),
    ("MACE Medium (zero-shot)", 410, 786),
    ("UMA Small (110)", 564, 786),
    ("UMA Small (2000)", 685, 786),
]
shapes.append(dict(type="rect", xref="paper", yref="paper",
                   x0=px_x(6), x1=px_x(796), y0=px_y(808), y1=px_y(775),
                   line=dict(color="#d0d0d0", width=0.8), fillcolor="rgba(255,255,255,0.8)",
                   layer="above"))
for name, lx, ly in LEG_ENTRIES:
    st = STYLE[name]
    shapes.append(dict(type="line", xref="paper", yref="paper",
                       x0=px_x(lx), x1=px_x(lx + 19), y0=px_y(ly), y1=px_y(ly),
                       line=dict(color=st["color"], width=st["width"] if name != "DFT (reference)" else 1.6,
                                 dash=st["dash"]), layer="above"))
    annotations.append(dict(text=name, x=px_x(lx + 25), y=px_y(ly), xref="paper", yref="paper",
                            showarrow=False, xanchor="left", yanchor="middle",
                            font=dict(family=FONT, size=8.5)))

layout["annotations"] = annotations
layout["shapes"] = shapes
fig.update_layout(**layout)

fig.write_html("out.html")
